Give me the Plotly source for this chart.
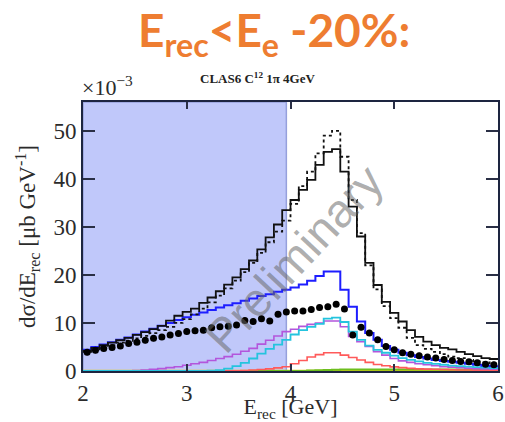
import numpy as np
import plotly.graph_objects as go

# Reconstructed-energy binning: 50 bins of 0.08 GeV between 2 and 6 GeV
bin_edges = [round(2.0 + 0.08 * k, 2) for k in range(51)]
bin_centers = [round(2.04 + 0.08 * k, 2) for k in range(50)]

# Model predictions (x 10^-3 ub/GeV), one value per bin
total_solid = [4.2, 4.8, 5.4, 5.9, 6.4, 6.9, 7.5, 8.1, 8.7, 9.4,
               10.5, 11.5, 12.3, 13.0, 14.2, 15.3, 16.6, 18.0, 19.5, 21.2,
               23.0, 25.3, 27.8, 30.5, 33.5, 35.6, 37.7, 39.8, 42.9, 45.6,
               46.2, 41.5, 34.2, 28.0, 22.5, 17.9, 14.4, 12.1, 10.3, 8.5,
               7.1, 6.1, 5.4, 4.8, 4.5, 4.0, 3.5, 3.1, 2.7, 2.5]
total_dotted = [4.0, 4.5, 5.0, 5.4, 5.9, 6.3, 6.8, 7.3, 7.9, 8.5,
                9.2, 10.0, 10.8, 11.8, 13.0, 14.3, 15.7, 17.2, 18.8, 20.6,
                22.5, 24.6, 26.8, 29.0, 31.3, 34.8, 38.5, 41.5, 45.3, 49.0,
                50.0, 44.6, 35.6, 28.7, 22.0, 17.0, 13.5, 11.0, 9.0, 6.9,
                5.4, 4.6, 4.0, 3.5, 3.0, 2.7, 2.3, 2.0, 1.8, 1.6]
blue_comp = [4.4, 5.0, 5.5, 6.0, 6.5, 7.0, 7.6, 8.2, 8.8, 9.4,
             10.0, 10.6, 11.2, 11.7, 12.2, 12.7, 13.2, 13.7, 14.1, 14.6,
             15.1, 15.6, 16.0, 16.5, 16.9, 17.4, 18.0, 18.8, 19.8, 20.7,
             20.7, 16.9, 13.4, 10.3, 7.9, 6.5, 5.2, 4.4, 3.8, 3.3,
             2.9, 2.6, 2.3, 2.1, 1.9, 1.7, 1.5, 1.3, 1.1, 1.0]
violet_comp = [0.0, 0.0, 0.0, 0.0, 0.0, 0.05, 0.1, 0.2, 0.35, 0.5,
               0.7, 0.9, 1.2, 1.5, 1.8, 2.2, 2.6, 3.0, 3.5, 4.1,
               4.7, 5.6, 6.4, 7.3, 8.2, 8.7, 9.3, 9.7, 10.0, 10.4,
               10.4, 9.2, 7.2, 6.1, 5.1, 4.0, 3.3, 2.6, 2.1, 1.8,
               1.5, 1.3, 1.1, 0.9, 0.8, 0.7, 0.6, 0.5, 0.45, 0.4]
cyan_comp = [0.0, 0.0, 0.0, 0.0, 0.0, 0.0, 0.0, 0.0, 0.0, 0.0,
             0.0, 0.0, 0.0, 0.0, 0.0, 0.05, 0.2, 0.5, 1.0, 1.7,
             2.6, 3.6, 4.6, 5.5, 6.5, 7.6, 8.5, 9.2, 9.8, 10.9,
             11.1, 10.2, 8.2, 6.5, 5.3, 4.4, 3.8, 3.2, 2.7, 2.3,
             2.0, 1.7, 1.5, 1.3, 1.1, 1.0, 0.9, 0.8, 0.7, 0.6]
red_comp = [0.0, 0.0, 0.0, 0.0, 0.0, 0.0, 0.0, 0.0, 0.0, 0.0,
            0.0, 0.0, 0.0, 0.0, 0.0, 0.05, 0.05, 0.05, 0.05, 0.1,
            0.2, 0.3, 0.45, 0.65, 0.9, 1.5, 2.2, 2.9, 3.4, 3.8,
            3.8, 3.3, 2.8, 2.3, 1.8, 1.35, 1.1, 0.85, 0.7, 0.55,
            0.45, 0.4, 0.35, 0.3, 0.25, 0.2, 0.2, 0.15, 0.15, 0.1]
green_comp = [0.0] * 27 + [0.1, 0.15, 0.2, 0.25, 0.3, 0.3, 0.3, 0.3, 0.3,
                           0.3, 0.3, 0.3, 0.3, 0.3, 0.3, 0.3, 0.3, 0.3,
                           0.3, 0.3, 0.3, 0.3]
yellow_comp = [0.05] * 50

# Measured cross section (x 10^-3 ub/GeV)
data_vals = [3.9, 4.3, 4.7, 4.9, 5.2, 5.7, 6.0, 6.4, 6.8, 7.1,
             7.5, 7.8, 8.2, 8.4, 8.5, 9.0, 9.2, 9.3, 9.6, 10.5,
             10.3, 10.9, 10.4, 11.8, 12.3, 12.5, 12.5, 12.8, 13.2, 13.4,
             13.9, 12.9, 7.5, 9.1, 7.9, 6.5, 5.1, 4.4, 3.8, 3.5,
             3.2, 2.9, 2.7, 2.4, 2.2, 2.0, 1.9, 1.7, 1.4, 1.3]
data_errs = [0.6] * 50

# Region excluded by the E_rec < E_e - 20% cut
cut_low, cut_high = 2.0, 3.96

x_ticks = [2, 3, 4, 5, 6]
y_ticks = [0, 10, 20, 30, 40, 50]

SERIF = "Liberation Serif, Times New Roman, serif"

fig = go.Figure()


def step_trace(vals, color, width, dash="solid"):
    return go.Scatter(
        x=bin_edges, y=list(vals) + [vals[-1]], mode="lines",
        line=dict(color=color, width=width, dash=dash, shape="hv"),
        hoverinfo="skip", showlegend=False)


fig.add_trace(step_trace(yellow_comp, "#E8CF10", 2))
fig.add_trace(step_trace(green_comp, "#6DBE1E", 2))
fig.add_trace(step_trace(red_comp, "#FF5A5A", 1.6))
fig.add_trace(step_trace(violet_comp, "#B356DC", 1.6))
fig.add_trace(step_trace(cyan_comp, "#24C4DE", 1.8))
fig.add_trace(step_trace(blue_comp, "#1E1EFF", 2))
fig.add_trace(step_trace(total_dotted, "#111111", 1.8, "dot"))
fig.add_trace(step_trace(total_solid, "#111111", 1.8))

fig.add_trace(go.Scatter(
    x=bin_centers, y=data_vals, mode="markers",
    marker=dict(color="black", size=7),
    error_y=dict(type="data", array=data_errs, color="black",
                 thickness=1.5, width=0),
    hoverinfo="skip", showlegend=False))

fig.add_shape(type="rect", xref="x", yref="y", x0=cut_low, x1=cut_high,
              y0=0, y1=56, fillcolor="rgb(192,200,250)",
              line=dict(color="rgba(150,160,220,1)", width=1.5),
              layer="below")

axis_common = dict(
    showline=True, linecolor="#1d2540", linewidth=2, mirror="ticks",
    ticks="inside", tickcolor="#2a2f45", showgrid=False, zeroline=False,
    automargin=False,
    tickfont=dict(family=SERIF, size=23, color="#2b2b2b"))

fig.update_xaxes(range=[2, 6], tickvals=x_ticks, ticklen=7, tickwidth=1.5,
                 title=dict(text="E<sub>rec</sub> [GeV]", standoff=3,
                            font=dict(family=SERIF, size=22, color="#2b2b2b")),
                 **axis_common)
fig.update_yaxes(range=[0, 56], tickvals=y_ticks, ticklen=12, tickwidth=2,
                 title=dict(text="dσ/dE<sub>rec</sub> [μb GeV<sup>-1</sup>]",
                            standoff=11,
                            font=dict(family=SERIF, size=23, color="#2b2b2b")),
                 **axis_common)

fig.add_annotation(text="E<sub>rec</sub><E<sub>e</sub> -20%:", xref="paper",
                   yref="paper", x=0.46, y=1.0, yshift=102, xanchor="center",
                   yanchor="top", showarrow=False,
                   font=dict(family="Lato, Open Sans, sans-serif", size=46,
                             color="#EE7D31", weight="bold"))
fig.add_annotation(text="<b>CLAS6 C<sup>12</sup> 1π 4GeV</b>", xref="paper",
                   yref="paper", x=0.42, y=1.0, yshift=14, xanchor="center",
                   yanchor="bottom", showarrow=False,
                   font=dict(family=SERIF, size=13, color="#222222"))
fig.add_annotation(text="×10<sup>−3</sup>", xref="paper", yref="paper",
                   x=0.0, y=1.0, xshift=-3, yanchor="bottom", xanchor="left",
                   showarrow=False,
                   font=dict(family=SERIF, size=22, color="#2b2b2b"))
fig.add_annotation(text="Preliminary", xref="x", yref="y", x=4.03, y=23.5,
                   textangle=-47, showarrow=False,
                   font=dict(family="Liberation Sans, Arial, sans-serif",
                             size=47, color="rgba(105,105,105,0.55)"))

fig.update_layout(
    width=505, height=422, margin=dict(l=83, r=7, t=102, b=51),
    plot_bgcolor="white", paper_bgcolor="white", showlegend=False)

fig.write_html("out.html")
